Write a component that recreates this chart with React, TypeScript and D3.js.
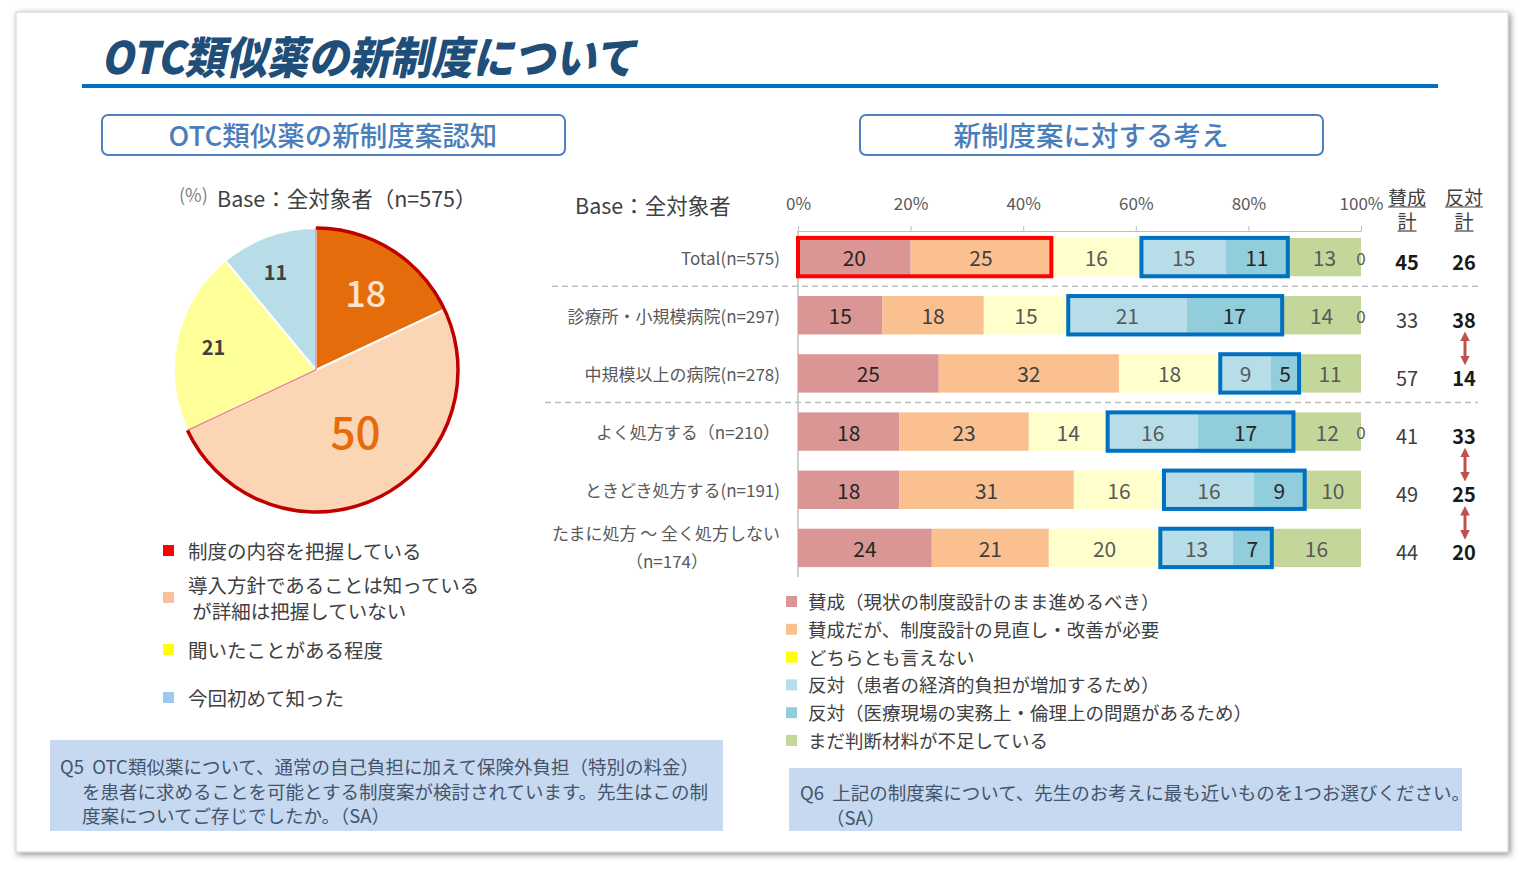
import React, { useRef, useEffect } from 'react';
import * as d3 from 'd3';

// left: awareness (pie)
const pieLabels = ['制度の内容を把握している', '導入方針であることは知っている\n が詳細は把握していない', '聞いたことがある程度', '今回初めて知った'];
const pieValues = [18, 50, 21, 11];
const pieColors = ['#e46c0a', '#fcd5b5', '#ffff99', '#b7dee8'];
const pieLegendColors = ['#ff0000', '#fbbf99', '#ffff00', '#9dc8f2'];

// right: opinion (stacked bars)
const barCategories = [
  'Total(n=575)',
  '診療所・小規模病院(n=297)',
  '中規模以上の病院(n=278)',
  'よく処方する（n=210）',
  'ときどき処方する(n=191)',
  'たまに処方 ～ 全く処方しない\n（n=174）'
];
const seriesNames = [
  '賛成（現状の制度設計のまま進めるべき）',
  '賛成だが、制度設計の見直し・改善が必要',
  'どちらとも言えない',
  '反対（患者の経済的負担が増加するため）',
  '反対（医療現場の実務上・倫理上の問題があるため）',
  'まだ判断材料が不足している',
  '無回答'
];
const agreeAsIs = [20, 15, 25, 18, 18, 24];
const agreeRevise = [25, 18, 32, 23, 31, 21];
const neutral = [16, 15, 18, 14, 16, 20];
const opposeCost = [15, 21, 9, 16, 16, 13];
const opposeEthics = [11, 17, 5, 17, 9, 7];
const undecided = [13, 14, 11, 12, 10, 16];
const noAnswer: (number | null)[] = [0, 0, null, 0, null, null];
const agreeTotal = [45, 33, 57, 41, 49, 44];
const opposeTotal = [26, 38, 14, 33, 25, 20];
const xTicks = [0, 0.2, 0.4, 0.6, 0.8, 1];
const arrowPairs = [[1, 2], [3, 4], [4, 5]];
const separatorsAfter = [0, 2];

const barColors = ['#da9694', '#fac090', '#ffffcc', '#b7dee8', '#92cddc', '#c4d79b', '#ffffff'];
const barLegendColors = ['#da9694', '#fac090', '#ffff00', '#b7dee8', '#92cddc', '#c4d79b'];
const labelColors = ['#262626', '#404040', '#595959', '#595959', '#262626', '#595959', '#595959'];

const FONT = '"Noto Sans CJK JP", "Noto Sans", sans-serif';
const W = 1525;
const H = 873;

const App: React.FC = () => {
  const ref = useRef<SVGSVGElement | null>(null);

  useEffect(() => {
    if (!ref.current) return;
    const svg = d3.select(ref.current);
    svg.selectAll('*').remove();
    svg.style('font-family', FONT);

    const defs = svg.append('defs');
    defs.append('filter')
      .attr('id', 'shadow')
      .attr('x', '-5%').attr('y', '-5%').attr('width', '110%').attr('height', '110%')
      .append('feDropShadow')
      .attr('dx', 2).attr('dy', 2).attr('stdDeviation', 3)
      .attr('flood-color', '#000').attr('flood-opacity', 0.45);
    defs.append('marker')
      .attr('id', 'arrow')
      .attr('viewBox', '0 0 10 10')
      .attr('refX', 5).attr('refY', 5)
      .attr('markerWidth', 3.2).attr('markerHeight', 3.2)
      .attr('orient', 'auto-start-reverse')
      .append('path')
      .attr('d', 'M0,0 L10,5 L0,10 z')
      .attr('fill', '#c0504d');

    // slide frame
    svg.append('rect')
      .attr('x', 16).attr('y', 12).attr('width', 1492).attr('height', 840)
      .attr('fill', '#fff').attr('stroke', '#cfcfcf')
      .attr('filter', 'url(#shadow)');

    // title
    svg.append('text')
      .attr('transform', 'translate(101,74) skewX(-12) scale(0.98,1.06)')
      .attr('fill', '#1f4e79')
      .attr('font-size', 42)
      .attr('font-weight', 900)
      .text('OTC類似薬の新制度について');
    svg.append('line')
      .attr('x1', 82).attr('x2', 1438).attr('y1', 86).attr('y2', 86)
      .attr('stroke', '#0070c0').attr('stroke-width', 4);

    // section headers
    const headers = [
      { x: 102, text: 'OTC類似薬の新制度案認知' },
      { x: 860, text: '新制度案に対する考え' }
    ];
    headers.forEach(h => {
      svg.append('rect')
        .attr('x', h.x).attr('y', 115).attr('width', 463).attr('height', 40)
        .attr('rx', 6)
        .attr('fill', '#fff').attr('stroke', '#4f81bd').attr('stroke-width', 2);
      svg.append('text')
        .attr('x', h.x + 231).attr('y', 134)
        .attr('text-anchor', 'middle').attr('dominant-baseline', 'central')
        .attr('font-size', 27.5).attr('font-weight', 500).attr('fill', '#4a7ebb')
        .text(h.text);
    });

    // ---------- pie ----------
    const cx = 316, cy = 370, r = 142;
    svg.append('text').attr('x', 179).attr('y', 202)
      .attr('font-size', 18).attr('fill', '#7f7f7f').text('(%)');
    svg.append('text').attr('x', 217).attr('y', 207)
      .attr('font-size', 21.5).attr('fill', '#404040').text('Base：全対象者（n=575）');

    const pie = d3.pie<number>().sort(null).value(d => d);
    const arcs = pie(pieValues);
    const arc = d3.arc<d3.PieArcDatum<number>>().innerRadius(0).outerRadius(r);
    const pg = svg.append('g').attr('transform', `translate(${cx},${cy})`);
    pg.selectAll('path.slice')
      .data(arcs)
      .join('path')
      .attr('class', 'slice')
      .attr('d', arc)
      .attr('fill', (_, i) => pieColors[i])
      .attr('stroke', '#fff')
      .attr('stroke-width', 2);

    // outline around the "know" slices (first two)
    const knowEnd = arcs[1].endAngle;
    pg.append('path')
      .attr('d', d3.arc()({ innerRadius: 0, outerRadius: r, startAngle: 0, endAngle: knowEnd } as any) as string)
      .attr('fill', 'none').attr('stroke', '#e88a8a').attr('stroke-width', 1.5);
    pg.append('path')
      .attr('d', d3.arc()({ innerRadius: r, outerRadius: r, startAngle: 0, endAngle: knowEnd } as any) as string)
      .attr('fill', 'none').attr('stroke', '#c00000').attr('stroke-width', 3.5);

    const pieLabelStyle = [
      { rr: 91, dx: 1, dy: -2, size: 36, color: '#fde3cc', weight: 500 },
      { rr: 74, dx: 8, dy: -7, size: 44, color: '#e46c0a', weight: 500 },
      { rr: 105, dx: 0, dy: -1, size: 20, color: '#404040', weight: 700 },
      { rr: 105, dx: -5, dy: 0, size: 20, color: '#404040', weight: 700 }
    ];
    arcs.forEach((a, i) => {
      const st = pieLabelStyle[i];
      const lab = d3.arc<d3.PieArcDatum<number>>().innerRadius(st.rr).outerRadius(st.rr);
      const [lx, ly] = lab.centroid(a);
      pg.append('text')
        .attr('x', lx + st.dx).attr('y', ly + st.dy)
        .attr('text-anchor', 'middle').attr('dominant-baseline', 'central')
        .attr('font-size', st.size).attr('font-weight', st.weight).attr('fill', st.color)
        .text(a.data);
    });

    // pie legend
    const pieLegendY = [550, 597, 649, 697];
    pieLabels.forEach((lab, i) => {
      const y = pieLegendY[i];
      svg.append('rect')
        .attr('x', 163).attr('y', y - 5).attr('width', 11).attr('height', 11)
        .attr('fill', pieLegendColors[i]);
      const lines = lab.split('\n');
      lines.forEach((ln, j) => {
        svg.append('text')
          .attr('x', 188).attr('y', y + (j - (lines.length - 1) / 2) * 26)
          .attr('dominant-baseline', 'central')
          .attr('font-size', 19.5).attr('fill', '#404040')
          .style('white-space', 'pre')
          .text(ln);
      });
    });

    // ---------- stacked bars ----------
    const keys = seriesNames.map((_, i) => `s${i}`);
    const seriesArrays = [agreeAsIs, agreeRevise, neutral, opposeCost, opposeEthics, undecided, noAnswer];
    const rows = barCategories.map((c, i) => {
      const o: Record<string, any> = { cat: c };
      keys.forEach((k, j) => { o[k] = seriesArrays[j][i] ?? 0; });
      return o;
    });
    const stacked = d3.stack<Record<string, any>>()
      .keys(keys)
      .offset(d3.stackOffsetExpand)(rows);

    const x = d3.scaleLinear().domain([0, 1]).range([798, 1361]);
    const y = d3.scaleBand<string>()
      .domain(barCategories)
      .range([228, 577])
      .paddingInner(0.34)
      .paddingOuter(0.17);
    const bw = y.bandwidth();
    const yc = (i: number) => (y(barCategories[i]) as number) + bw / 2;

    svg.append('text').attr('x', 575).attr('y', 204)
      .attr('dominant-baseline', 'central')
      .attr('font-size', 21.5).attr('fill', '#404040').text('Base：全対象者');

    const axis = svg.append('g')
      .attr('transform', 'translate(0,231)')
      .call(d3.axisTop(x).tickValues(xTicks).tickFormat(d3.format('.0%')).tickSize(5).tickPadding(16));
    axis.select('.domain').attr('stroke', '#bfbfbf');
    axis.selectAll('line').attr('stroke', '#bfbfbf');
    axis.selectAll('text')
      .attr('font-family', FONT).attr('font-size', 17).attr('fill', '#595959');

    svg.append('line')
      .attr('x1', 798).attr('x2', 798).attr('y1', 231).attr('y2', 577)
      .attr('stroke', '#bfbfbf').attr('stroke-width', 1.5);

    // separators
    const sepX = [552, 545];
    separatorsAfter.forEach((i, k) => {
      const sy = (yc(i) + yc(i + 1)) / 2;
      svg.append('line')
        .attr('x1', sepX[k]).attr('x2', 1478).attr('y1', sy).attr('y2', sy)
        .attr('stroke', '#bfbfbf').attr('stroke-width', 1.5).attr('stroke-dasharray', '6,4');
    });

    const bars = svg.append('g');
    stacked.forEach((s, si) => {
      if (si === 6) return;
      bars.selectAll(null)
        .data(s)
        .join('rect')
        .attr('x', d => x(d[0]))
        .attr('y', d => y(d.data.cat) as number)
        .attr('width', d => x(d[1]) - x(d[0]))
        .attr('height', bw)
        .attr('fill', barColors[si]);
    });

    // highlight boxes
    const redEnd = stacked[1][0][1];
    svg.append('rect')
      .attr('x', x(0)).attr('y', y(barCategories[0]) as number)
      .attr('width', x(redEnd) - x(0)).attr('height', bw)
      .attr('fill', 'none').attr('stroke', '#ff0000').attr('stroke-width', 4);
    barCategories.forEach((c, i) => {
      const x0 = x(stacked[3][i][0]);
      const x1 = x(stacked[4][i][1]);
      svg.append('rect')
        .attr('x', x0).attr('y', y(c) as number)
        .attr('width', x1 - x0).attr('height', bw)
        .attr('fill', 'none').attr('stroke', '#0070c0').attr('stroke-width', 4);
    });

    // value labels
    stacked.forEach((s, si) => {
      s.forEach((d, i) => {
        const v = seriesArrays[si][i];
        if (v === null || v === undefined) return;
        svg.append('text')
          .attr('x', x((d[0] + d[1]) / 2))
          .attr('y', yc(i))
          .attr('text-anchor', 'middle').attr('dominant-baseline', 'central')
          .attr('font-size', si === 6 ? 17 : 21)
          .attr('fill', labelColors[si])
          .text(v);
      });
    });

    // category labels
    barCategories.forEach((c, i) => {
      const lines = c.split('\n');
      if (lines.length === 1) {
        svg.append('text')
          .attr('x', 780).attr('y', yc(i))
          .attr('text-anchor', 'end').attr('dominant-baseline', 'central')
          .attr('font-size', 17).attr('fill', '#595959')
          .text(c);
      } else {
        svg.append('text')
          .attr('x', 780).attr('y', yc(i) - 15)
          .attr('text-anchor', 'end').attr('dominant-baseline', 'central')
          .attr('font-size', 17).attr('fill', '#595959')
          .text(lines[0]);
        svg.append('text')
          .attr('x', 667).attr('y', yc(i) + 13)
          .attr('text-anchor', 'middle').attr('dominant-baseline', 'central')
          .attr('font-size', 17).attr('fill', '#595959')
          .text(lines[1]);
      }
    });

    // totals columns
    const colX = [1407, 1464];
    const heads = [['賛成', '計'], ['反対', '計']];
    heads.forEach((h, k) => {
      h.forEach((t, j) => {
        const ty = 196 + j * 24;
        svg.append('text')
          .attr('x', colX[k]).attr('y', ty)
          .attr('text-anchor', 'middle').attr('dominant-baseline', 'central')
          .attr('font-size', 19).attr('fill', '#404040')
          .text(t);
        const hw = (t.length * 19) / 2;
        svg.append('line')
          .attr('x1', colX[k] - hw).attr('x2', colX[k] + hw)
          .attr('y1', ty + 11).attr('y2', ty + 11)
          .attr('stroke', '#404040').attr('stroke-width', 1.2);
      });
    });
    barCategories.forEach((_, i) => {
      svg.append('text')
        .attr('x', colX[0]).attr('y', yc(i) + 4)
        .attr('text-anchor', 'middle').attr('dominant-baseline', 'central')
        .attr('font-size', 20).attr('font-weight', i === 0 ? 700 : 400)
        .attr('fill', i === 0 ? '#1a1a1a' : '#404040')
        .text(agreeTotal[i]);
      svg.append('text')
        .attr('x', colX[1]).attr('y', yc(i) + 4)
        .attr('text-anchor', 'middle').attr('dominant-baseline', 'central')
        .attr('font-size', 20).attr('font-weight', 700).attr('fill', '#1a1a1a')
        .text(opposeTotal[i]);
    });
    arrowPairs.forEach(([a, b]) => {
      svg.append('line')
        .attr('x1', colX[1] + 1).attr('x2', colX[1] + 1)
        .attr('y1', yc(a) + 21).attr('y2', yc(b) - 13)
        .attr('stroke', '#c0504d').attr('stroke-width', 3)
        .attr('marker-start', 'url(#arrow)').attr('marker-end', 'url(#arrow)');
    });

    // bar legend
    seriesNames.slice(0, 6).forEach((n, i) => {
      const ly = 601 + i * 27.8;
      svg.append('rect')
        .attr('x', 786).attr('y', ly - 5).attr('width', 11).attr('height', 11)
        .attr('fill', barLegendColors[i]);
      svg.append('text')
        .attr('x', 808).attr('y', ly)
        .attr('dominant-baseline', 'central')
        .attr('font-size', 18.5).attr('fill', '#404040')
        .text(n);
    });

    // question boxes
    const qBoxes = [
      {
        x: 50, y: 740, w: 673, h: 91,
        lines: [
          { x: 60, t: 'Q5  OTC類似薬について、通常の自己負担に加えて保険外負担（特別の料金）' },
          { x: 82, t: 'を患者に求めることを可能とする制度案が検討されています。先生はこの制' },
          { x: 82, t: '度案についてご存じでしたか。（SA）' }
        ],
        y0: 766
      },
      {
        x: 789, y: 768, w: 673, h: 63,
        lines: [
          { x: 800, t: 'Q6  上記の制度案について、先生のお考えに最も近いものを1つお選びください。' },
          { x: 826, t: '（SA）' }
        ],
        y0: 792
      }
    ];
    qBoxes.forEach(q => {
      svg.append('rect')
        .attr('x', q.x).attr('y', q.y).attr('width', q.w).attr('height', q.h)
        .attr('fill', '#c6d9f1');
      q.lines.forEach((l, j) => {
        svg.append('text')
          .attr('x', l.x).attr('y', q.y0 + j * 24.5)
          .attr('dominant-baseline', 'central')
          .attr('font-size', 18.5).attr('fill', '#44546a')
          .style('white-space', 'pre')
          .text(l.t);
      });
    });
  }, []);

  return (
    <svg
      ref={ref}
      width={W}
      height={H}
      viewBox={`0 0 ${W} ${H}`}
      style={{ position: 'absolute', left: 0, top: 0, display: 'block', background: '#fff' }}
    />
  );
};

export default App;
